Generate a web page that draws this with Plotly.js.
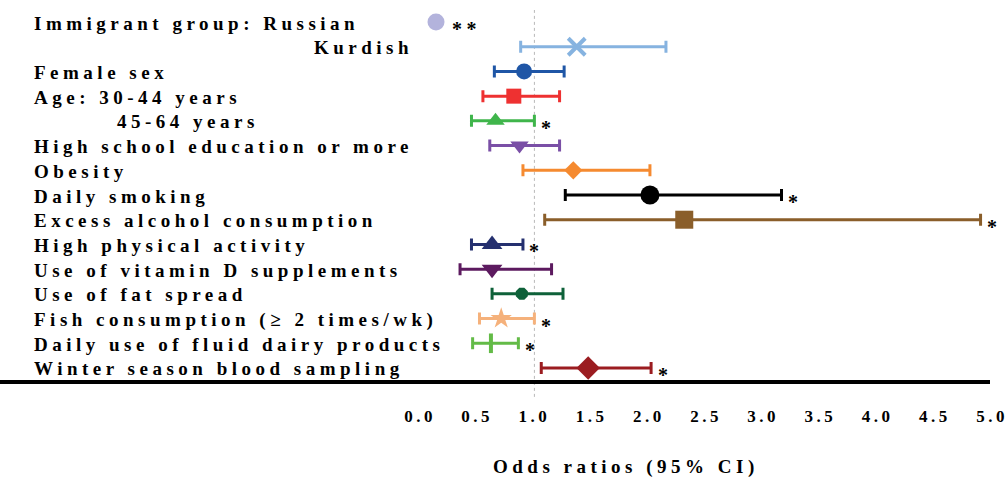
<!DOCTYPE html>
<html>
<head>
<meta charset="utf-8">
<script src="https://cdn.plot.ly/plotly-3.0.1.min.js"></script>
<style>
  html, body { margin: 0; padding: 0; background: #fff; }
  #chart { width: 1007px; height: 477px; }
  .annotation-text { letter-spacing: 4.5px; }
  .xtick text { letter-spacing: 3.5px; }
</style>
</head>
<body>
<div id="chart"></div>
<script>
// ---- Data ----
const categories = [
  "Immigrant group: Russian",
  "Kurdish",
  "Female sex",
  "Age: 30-44 years",
  "45-64 years",
  "High school education or more",
  "Obesity",
  "Daily smoking",
  "Excess alcohol consumption",
  "High physical activity",
  "Use of vitamin D supplements",
  "Use of fat spread",
  "Fish consumption (\u2265 2 times/wk)",
  "Daily use of fluid dairy products",
  "Winter season blood sampling"
];
const oddsRatio = [0.14, 1.37, 0.91, 0.82, 0.66, 0.87, 1.34, 2.01, 2.31, 0.63, 0.63, 0.89, 0.71, 0.62, 1.47];
const ciLower   = [0.12, 0.88, 0.65, 0.55, 0.45, 0.61, 0.90, 1.27, 1.09, 0.45, 0.35, 0.63, 0.52, 0.46, 1.06];
const ciUpper   = [0.17, 2.15, 1.26, 1.22, 1.00, 1.22, 2.01, 3.16, 4.90, 0.90, 1.15, 1.25, 1.00, 0.86, 2.02];
const significance = ["**", "", "", "", "*", "", "", "*", "*", "*", "", "", "*", "*", "*"];
const tickValues = [0, 0.5, 1, 1.5, 2, 2.5, 3, 3.5, 4, 4.5, 5];
const tickLabels = ["0.0", "0.5", "1.0", "1.5", "2.0", "2.5", "3.0", "3.5", "4.0", "4.5", "5.0"];

// ---- Styles ----
const colors = ["#b3b3dc", "#86b3e0", "#1f56a6", "#ee3131", "#3fb54b", "#7a4fa6", "#f58a30",
                "#000000", "#8a5e2a", "#25306f", "#5c1a5f", "#0e6139", "#f5b17b", "#63bb47", "#9b1c20"];
const symbols = ["circle", "x-thin", "circle", "square", "triangle-up", "triangle-down", "diamond",
                 "circle", "square", "triangle-up", "triangle-down", "octagon", "star", "line-ns", "diamond"];
const sizes = [17, 17, 16, 15, 16, 16, 14, 19, 18, 18, 18, 13, 16, 14, 18];

const W = 1007, H = 477;
const mL = 420, mR = 15, mT = 10, mB = 95;
const plotW = W - mL - mR, plotH = H - mT - mB;
const px2paperX = p => (p - mL) / plotW;
const px2paperY = p => (H - mB - p) / plotH;

const traces = categories.map((c, i) => {
  const thin = symbols[i] === "x-thin" || symbols[i] === "line-ns";
  return {
    type: "scatter",
    mode: "markers",
    x: [oddsRatio[i]],
    y: [i],
    showlegend: false,
    hoverinfo: "skip",
    marker: {
      symbol: symbols[i],
      size: sizes[i],
      color: colors[i],
      line: thin ? { color: colors[i], width: 4 } : { width: 0 }
    },
    error_x: {
      type: "data",
      symmetric: false,
      array: [ciUpper[i] - oddsRatio[i]],
      arrayminus: [oddsRatio[i] - ciLower[i]],
      color: colors[i],
      thickness: 3,
      width: 6
    }
  };
});

const labelFont = { family: "Liberation Serif, Times New Roman, serif", size: 19, color: "#000", weight: "bold" };

const annotations = [];
categories.forEach((c, i) => {
  let x = px2paperX(32), xanchor = "left";
  if (i === 1) { x = px2paperX(415); xanchor = "right"; }
  if (i === 4) { x = px2paperX(115); }
  annotations.push({
    xref: "paper", yref: "y", x: x, y: i, xanchor: xanchor, yanchor: "middle",
    text: c, showarrow: false, font: labelFont, yshift: -1
  });
  if (significance[i]) {
    const isRussian = i === 0;
    annotations.push({
      xref: "x", yref: "y", x: isRussian ? oddsRatio[i] : ciUpper[i], y: i,
      xanchor: "center", yanchor: "middle",
      text: significance[i], showarrow: false,
      xshift: isRussian ? 30 : 14, yshift: -7,
      font: { family: "Liberation Serif, serif", size: 20, color: "#000", weight: "bold" }
    });
  }
});
annotations.push({
  xref: "paper", yref: "paper", x: px2paperX(626), y: px2paperY(467),
  xanchor: "center", yanchor: "middle", showarrow: false,
  text: "Odds ratios (95% CI)", font: labelFont
});

const layout = {
  width: W, height: H,
  margin: { l: mL, r: mR, t: mT, b: mB, pad: 0 },
  paper_bgcolor: "#ffffff", plot_bgcolor: "#ffffff",
  showlegend: false,
  xaxis: {
    range: [0, 5], autorange: false,
    tickvals: tickValues, ticktext: tickLabels,
    showgrid: false, zeroline: false, showline: false, ticks: "",
    ticklabelstandoff: 22,
    ticklabeloverflow: "allow",
    tickfont: { family: "Liberation Serif, serif", size: 17, color: "#000", weight: "bold" },
    fixedrange: true
  },
  yaxis: {
    range: [14.567, -0.486], autorange: false,
    showticklabels: false, showgrid: false, zeroline: false, showline: false, ticks: "",
    fixedrange: true
  },
  shapes: [
    { type: "line", xref: "x", yref: "paper", x0: 1, x1: 1, y0: -0.04, y1: 1.0,
      line: { color: "#b8b8b8", width: 1, dash: "dot" }, layer: "below" },
    { type: "line", xref: "paper", yref: "paper", x0: px2paperX(0), x1: px2paperX(990), y0: 0, y1: 0,
      line: { color: "#000", width: 4 } }
  ],
  annotations: annotations
};

Plotly.newPlot("chart", traces, layout, { staticPlot: true, displayModeBar: false });
</script>
</body>
</html>
